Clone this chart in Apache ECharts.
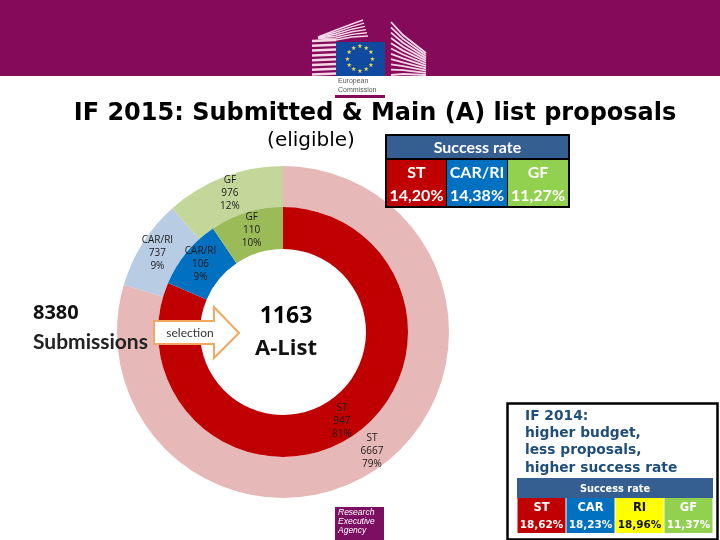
<!DOCTYPE html>
<html><head><meta charset="utf-8">
<style>html,body{margin:0;padding:0;background:#fff}#c{width:720px;height:540px}</style>
<script src="https://cdn.jsdelivr.net/npm/echarts@6/dist/echarts.min.js"></script>
</head><body><div id="c"></div>
<script>
const categories = ['ST', 'CAR/RI', 'GF'];
const submitted = [6667, 737, 976];
const submittedPct = ['79%', '9%', '12%'];
const mainList = [947, 106, 110];
const mainListPct = ['81%', '9%', '10%'];
const rate2015Heads = ['ST', 'CAR/RI', 'GF'];
const rate2015Vals = ['14,20%', '14,38%', '11,27%'];
const rate2014Heads = ['ST', 'CAR', 'RI', 'GF'];
const rate2014Vals = ['18,62%', '18,23%', '18,96%', '11,37%'];
const note2014 = ['IF 2014:', 'higher budget,', 'less proposals,', 'higher success rate'];

const chart = echarts.init(document.getElementById('c'), null, {renderer: 'canvas'});
const RED = '#c00000', BLUE = '#0070c0', GREEN = '#92d050', YEL = '#ffff00', HEAD = '#355e91', PUR = '#850a5a';
const SANS = 'Lato, "Open Sans", sans-serif';
const g = [];
const rect = (x, y, w, h, fill, z) => g.push({type: 'rect', z: z || 10, shape: {x, y, width: w, height: h}, style: {fill}, silent: true});
const text = (x, y, t, font, fill, align) => g.push({type: 'text', z: 20, x, y, silent: true,
  style: {text: t, font, fill, align: align || 'center', verticalAlign: 'middle'}});
const line = (pts, w, c) => g.push({type: 'polyline', z: 11, silent: true, shape: {points: pts}, style: {stroke: c || '#f3d9e8', lineWidth: w, fill: null}});

// header band & logo
rect(0, 0, 720, 76, PUR, 1);
for (let i = 0; i < 8; i++) {
  const y = 41 + i * 4.8;
  line([[312, y], [336, y - 1]], 2.5);
}
for (let i = 0; i < 6; i++) {
  line([[318, 38.5 - i * 0.3], [336, 40 - i * 2], [352, 37 - i * 2.6], [368 - i, 36 - i * 3.2]], 1.4);
}
for (let i = 0; i < 11; i++) {
  line([[391, 22 + i * 5.3], [403, 35 + i * 3.9], [426, 53 + i * 2.2]], 1.8);
}
rect(336, 42, 49, 34, '#0f4aa0', 12);
for (let i = 0; i < 12; i++) {
  const a = i * Math.PI / 6;
  text(360 + 12.5 * Math.sin(a), 59 - 12.5 * Math.cos(a), '★', '6px "DejaVu Sans"', '#f4e04a');
}
text(338, 81, 'European', '7px "Liberation Sans"', '#555', 'left');
text(338, 90, 'Commission', '7px "Liberation Sans"', '#555', 'left');
rect(335, 95, 50, 3, PUR);

// titles
text(375, 114, 'IF 2015: Submitted & Main (A) list proposals', 'bold 24px "DejaVu Sans"', '#000');
text(311, 141, '(eligible)', '20px "DejaVu Sans"', '#000');

// 2015 table
rect(385, 134, 185, 74, '#000');
rect(387, 136, 181, 22, HEAD, 11);
text(477.5, 148, 'Success rate', 'bold 16px ' + SANS, '#fff');
[[387, 59, RED], [447, 60, BLUE], [508, 60, GREEN]].forEach((c, i) => {
  rect(c[0], 160, c[1], 46, c[2], 11);
  text(c[0] + c[1] / 2, 173, rate2015Heads[i], 'bold 16px ' + SANS, '#fff');
  text(c[0] + c[1] / 2, 196, rate2015Vals[i], 'bold 16px ' + SANS, '#fff');
});

// center annotations
text(33, 313, '8380', 'bold 20px "Open Sans"', '#111', 'left');
text(33, 342, 'Submissions', 'bold 21px ' + SANS, '#222', 'left');
text(286, 316, '1163', 'bold 23px "Open Sans"', '#000');
text(286, 349, 'A-List', 'bold 22px "Open Sans"', '#111');
g.push({type: 'polygon', z: 15, silent: true,
  shape: {points: [[154, 321], [214, 321], [214, 307], [239, 333], [214, 358], [214, 344], [154, 344]]},
  style: {fill: '#fff', stroke: '#f0a860', lineWidth: 2}});
text(190, 333, 'selection', '12px ' + SANS, '#333');

// REA logo
rect(335, 507, 49, 33, '#7d0f62');
['Research', 'Executive', 'Agency'].forEach((t, i) =>
  text(338, 513 + i * 8.7, t, 'italic 8.5px "Liberation Sans"', '#fff', 'left'));

// 2014 box
g.push({type: 'rect', z: 9, silent: true, shape: {x: 507.5, y: 403.5, width: 210, height: 136},
  style: {fill: '#fff', stroke: '#000', lineWidth: 2.5}});
note2014.forEach((t, i) => text(525, 416 + i * 17.4, t, 'bold 13.8px "DejaVu Sans"', '#1f4e79', 'left'));
rect(517, 478, 196, 20, HEAD, 11);
text(615, 489, 'Success rate', 'bold 9.8px "DejaVu Sans"', '#fff');
[RED, BLUE, YEL, GREEN].forEach((col, i) => {
  const x = 517.5 + i * 49;
  rect(x, 498, 48, 35, col, 11);
  const fc = col === YEL ? '#111' : '#fff';
  text(x + 24, 508, rate2014Heads[i], 'bold 11.5px "DejaVu Sans"', fc);
  text(x + 24, 525, rate2014Vals[i], 'bold 10.5px "DejaVu Sans"', fc);
});

const labelFor = pct => ({
  show: true, position: 'inside', color: '#1a1a1a', fontSize: 10, lineHeight: 13,
  fontFamily: '"Open Sans", sans-serif',
  formatter: p => p.name + '\n' + p.value + '\n' + pct[p.dataIndex]
});
const toData = (vals, cols) => categories.map((name, i) => ({name, value: vals[i], itemStyle: {color: cols[i]}}));

chart.setOption({
  animation: false,
  backgroundColor: '#fff',
  graphic: {elements: g},
  series: [
    {type: 'pie', center: [283, 332], radius: [125, 166], startAngle: 90, clockwise: true, silent: true,
     labelLine: {show: false}, label: labelFor(submittedPct), itemStyle: {borderWidth: 0},
     data: toData(submitted, ['#e6b8b7', '#b8cce4', '#c4d79b'])},
    {type: 'pie', center: [283, 332], radius: [83, 125], startAngle: 90, clockwise: true, silent: true,
     labelLine: {show: false}, label: labelFor(mainListPct), itemStyle: {borderWidth: 0},
     data: toData(mainList, [RED, BLUE, '#9bbb59'])}
  ]
});
</script></body></html>
